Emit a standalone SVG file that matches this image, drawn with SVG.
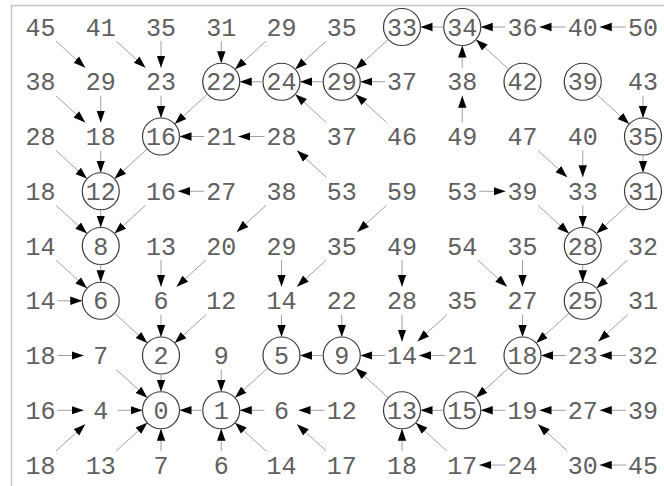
<svg xmlns="http://www.w3.org/2000/svg" width="664" height="486" viewBox="0 0 664 486">
<style>
.t{font-family:"Nimbus Mono PS","Nimbus Mono L","Courier New",Courier,FreeMono,"Liberation Mono",monospace;font-size:25px;fill:#606060;text-anchor:middle}
.c{fill:none;stroke:#3a3a3a;stroke-width:1.2}
.e line{stroke:#a0a0a0;stroke-width:1;marker-end:url(#ah)}
.f{stroke:#c4c4c4;stroke-width:1.5;fill:none}
</style>
<defs>
<marker id="ah" markerUnits="userSpaceOnUse" markerWidth="14" markerHeight="10" refX="12" refY="5" orient="auto">
<path d="M0,0.8 L12,5 L0,9.2 z" fill="#000"/>
</marker>
</defs>
<rect width="664" height="486" fill="#fff"/>
<path class="f" d="M11.5,486 V5.5 H664"/>
<g id="nodes">
<g id="n0_0"><text class="t" x="40.5" y="35.5">45</text></g>
<g id="n0_1"><text class="t" x="100.75" y="35.5">41</text></g>
<g id="n0_2"><text class="t" x="161" y="35.5">35</text></g>
<g id="n0_3"><text class="t" x="221.25" y="35.5">31</text></g>
<g id="n0_4"><text class="t" x="281.5" y="35.5">29</text></g>
<g id="n0_5"><text class="t" x="341.75" y="35.5">35</text></g>
<g id="n0_6"><circle class="c" cx="402" cy="27" r="18.5"/><text class="t" x="402" y="35.5">33</text></g>
<g id="n0_7"><circle class="c" cx="462.25" cy="27" r="18.5"/><text class="t" x="462.25" y="35.5">34</text></g>
<g id="n0_8"><text class="t" x="522.5" y="35.5">36</text></g>
<g id="n0_9"><text class="t" x="582.75" y="35.5">40</text></g>
<g id="n0_10"><text class="t" x="643" y="35.5">50</text></g>

<g id="n1_0"><text class="t" x="40.5" y="90.25">38</text></g>
<g id="n1_1"><text class="t" x="100.75" y="90.25">29</text></g>
<g id="n1_2"><text class="t" x="161" y="90.25">23</text></g>
<g id="n1_3"><circle class="c" cx="221.25" cy="81.75" r="18.5"/><text class="t" x="221.25" y="90.25">22</text></g>
<g id="n1_4"><circle class="c" cx="281.5" cy="81.75" r="18.5"/><text class="t" x="281.5" y="90.25">24</text></g>
<g id="n1_5"><circle class="c" cx="341.75" cy="81.75" r="18.5"/><text class="t" x="341.75" y="90.25">29</text></g>
<g id="n1_6"><text class="t" x="402" y="90.25">37</text></g>
<g id="n1_7"><text class="t" x="462.25" y="90.25">38</text></g>
<g id="n1_8"><circle class="c" cx="522.5" cy="81.75" r="18.5"/><text class="t" x="522.5" y="90.25">42</text></g>
<g id="n1_9"><circle class="c" cx="582.75" cy="81.75" r="18.5"/><text class="t" x="582.75" y="90.25">39</text></g>
<g id="n1_10"><text class="t" x="643" y="90.25">43</text></g>

<g id="n2_0"><text class="t" x="40.5" y="145">28</text></g>
<g id="n2_1"><text class="t" x="100.75" y="145">18</text></g>
<g id="n2_2"><circle class="c" cx="161" cy="136.5" r="18.5"/><text class="t" x="161" y="145">16</text></g>
<g id="n2_3"><text class="t" x="221.25" y="145">21</text></g>
<g id="n2_4"><text class="t" x="281.5" y="145">28</text></g>
<g id="n2_5"><text class="t" x="341.75" y="145">37</text></g>
<g id="n2_6"><text class="t" x="402" y="145">46</text></g>
<g id="n2_7"><text class="t" x="462.25" y="145">49</text></g>
<g id="n2_8"><text class="t" x="522.5" y="145">47</text></g>
<g id="n2_9"><text class="t" x="582.75" y="145">40</text></g>
<g id="n2_10"><circle class="c" cx="643" cy="136.5" r="18.5"/><text class="t" x="643" y="145">35</text></g>

<g id="n3_0"><text class="t" x="40.5" y="199.75">18</text></g>
<g id="n3_1"><circle class="c" cx="100.75" cy="191.25" r="18.5"/><text class="t" x="100.75" y="199.75">12</text></g>
<g id="n3_2"><text class="t" x="161" y="199.75">16</text></g>
<g id="n3_3"><text class="t" x="221.25" y="199.75">27</text></g>
<g id="n3_4"><text class="t" x="281.5" y="199.75">38</text></g>
<g id="n3_5"><text class="t" x="341.75" y="199.75">53</text></g>
<g id="n3_6"><text class="t" x="402" y="199.75">59</text></g>
<g id="n3_7"><text class="t" x="462.25" y="199.75">53</text></g>
<g id="n3_8"><text class="t" x="522.5" y="199.75">39</text></g>
<g id="n3_9"><text class="t" x="582.75" y="199.75">33</text></g>
<g id="n3_10"><circle class="c" cx="643" cy="191.25" r="18.5"/><text class="t" x="643" y="199.75">31</text></g>

<g id="n4_0"><text class="t" x="40.5" y="254.5">14</text></g>
<g id="n4_1"><circle class="c" cx="100.75" cy="246" r="18.5"/><text class="t" x="100.75" y="254.5">8</text></g>
<g id="n4_2"><text class="t" x="161" y="254.5">13</text></g>
<g id="n4_3"><text class="t" x="221.25" y="254.5">20</text></g>
<g id="n4_4"><text class="t" x="281.5" y="254.5">29</text></g>
<g id="n4_5"><text class="t" x="341.75" y="254.5">35</text></g>
<g id="n4_6"><text class="t" x="402" y="254.5">49</text></g>
<g id="n4_7"><text class="t" x="462.25" y="254.5">54</text></g>
<g id="n4_8"><text class="t" x="522.5" y="254.5">35</text></g>
<g id="n4_9"><circle class="c" cx="582.75" cy="246" r="18.5"/><text class="t" x="582.75" y="254.5">28</text></g>
<g id="n4_10"><text class="t" x="643" y="254.5">32</text></g>

<g id="n5_0"><text class="t" x="40.5" y="309.25">14</text></g>
<g id="n5_1"><circle class="c" cx="100.75" cy="300.75" r="18.5"/><text class="t" x="100.75" y="309.25">6</text></g>
<g id="n5_2"><text class="t" x="161" y="309.25">6</text></g>
<g id="n5_3"><text class="t" x="221.25" y="309.25">12</text></g>
<g id="n5_4"><text class="t" x="281.5" y="309.25">14</text></g>
<g id="n5_5"><text class="t" x="341.75" y="309.25">22</text></g>
<g id="n5_6"><text class="t" x="402" y="309.25">28</text></g>
<g id="n5_7"><text class="t" x="462.25" y="309.25">35</text></g>
<g id="n5_8"><text class="t" x="522.5" y="309.25">27</text></g>
<g id="n5_9"><circle class="c" cx="582.75" cy="300.75" r="18.5"/><text class="t" x="582.75" y="309.25">25</text></g>
<g id="n5_10"><text class="t" x="643" y="309.25">31</text></g>

<g id="n6_0"><text class="t" x="40.5" y="364">18</text></g>
<g id="n6_1"><text class="t" x="100.75" y="364">7</text></g>
<g id="n6_2"><circle class="c" cx="161" cy="355.5" r="18.5"/><text class="t" x="161" y="364">2</text></g>
<g id="n6_3"><text class="t" x="221.25" y="364">9</text></g>
<g id="n6_4"><circle class="c" cx="281.5" cy="355.5" r="18.5"/><text class="t" x="281.5" y="364">5</text></g>
<g id="n6_5"><circle class="c" cx="341.75" cy="355.5" r="18.5"/><text class="t" x="341.75" y="364">9</text></g>
<g id="n6_6"><text class="t" x="402" y="364">14</text></g>
<g id="n6_7"><text class="t" x="462.25" y="364">21</text></g>
<g id="n6_8"><circle class="c" cx="522.5" cy="355.5" r="18.5"/><text class="t" x="522.5" y="364">18</text></g>
<g id="n6_9"><text class="t" x="582.75" y="364">23</text></g>
<g id="n6_10"><text class="t" x="643" y="364">32</text></g>

<g id="n7_0"><text class="t" x="40.5" y="418.75">16</text></g>
<g id="n7_1"><text class="t" x="100.75" y="418.75">4</text></g>
<g id="n7_2"><circle class="c" cx="161" cy="410.25" r="18.5"/><text class="t" x="161" y="418.75">0</text></g>
<g id="n7_3"><circle class="c" cx="221.25" cy="410.25" r="18.5"/><text class="t" x="221.25" y="418.75">1</text></g>
<g id="n7_4"><text class="t" x="281.5" y="418.75">6</text></g>
<g id="n7_5"><text class="t" x="341.75" y="418.75">12</text></g>
<g id="n7_6"><circle class="c" cx="402" cy="410.25" r="18.5"/><text class="t" x="402" y="418.75">13</text></g>
<g id="n7_7"><circle class="c" cx="462.25" cy="410.25" r="18.5"/><text class="t" x="462.25" y="418.75">15</text></g>
<g id="n7_8"><text class="t" x="522.5" y="418.75">19</text></g>
<g id="n7_9"><text class="t" x="582.75" y="418.75">27</text></g>
<g id="n7_10"><text class="t" x="643" y="418.75">39</text></g>

<g id="n8_0"><text class="t" x="40.5" y="473.5">18</text></g>
<g id="n8_1"><text class="t" x="100.75" y="473.5">13</text></g>
<g id="n8_2"><text class="t" x="161" y="473.5">7</text></g>
<g id="n8_3"><text class="t" x="221.25" y="473.5">6</text></g>
<g id="n8_4"><text class="t" x="281.5" y="473.5">14</text></g>
<g id="n8_5"><text class="t" x="341.75" y="473.5">17</text></g>
<g id="n8_6"><text class="t" x="402" y="473.5">18</text></g>
<g id="n8_7"><text class="t" x="462.25" y="473.5">17</text></g>
<g id="n8_8"><text class="t" x="522.5" y="473.5">24</text></g>
<g id="n8_9"><text class="t" x="582.75" y="473.5">30</text></g>
<g id="n8_10"><text class="t" x="643" y="473.5">45</text></g>
</g>
<g id="connectors" class="e">
<line x1="56" y1="41.1" x2="85.25" y2="67.65"/>
<line x1="116.25" y1="41.1" x2="145.5" y2="67.65"/>
<line x1="161" y1="41" x2="161" y2="67.75"/>
<line x1="221.25" y1="41" x2="221.25" y2="63.25"/>
<line x1="266" y1="41.1" x2="234.95" y2="69.35"/>
<line x1="326.25" y1="41.1" x2="295.2" y2="69.35"/>
<line x1="388.3" y1="39.4" x2="355.45" y2="69.35"/>
<line x1="443.75" y1="27" x2="420.5" y2="27"/>
<line x1="505.5" y1="27" x2="480.75" y2="27"/>
<line x1="565.75" y1="27" x2="539.5" y2="27"/>
<line x1="626" y1="27" x2="599.75" y2="27"/>

<line x1="56" y1="95.85" x2="85.25" y2="122.4"/>
<line x1="100.75" y1="95.75" x2="100.75" y2="122.5"/>
<line x1="161" y1="95.75" x2="161" y2="118"/>
<line x1="207.55" y1="94.15" x2="174.7" y2="124.1"/>
<line x1="263" y1="81.75" x2="239.75" y2="81.75"/>
<line x1="323.25" y1="81.75" x2="300" y2="81.75"/>
<line x1="385" y1="81.75" x2="360.25" y2="81.75"/>
<line x1="462.25" y1="67.75" x2="462.25" y2="45.5"/>
<line x1="508.8" y1="69.35" x2="475.95" y2="39.4"/>
<line x1="596.45" y1="94.15" x2="629.3" y2="124.1"/>
<line x1="643" y1="95.75" x2="643" y2="118"/>

<line x1="56" y1="150.6" x2="87.05" y2="178.85"/>
<line x1="100.75" y1="150.5" x2="100.75" y2="172.75"/>
<line x1="147.3" y1="148.9" x2="114.45" y2="178.85"/>
<line x1="204.25" y1="136.5" x2="179.5" y2="136.5"/>
<line x1="264.5" y1="136.5" x2="238.25" y2="136.5"/>
<line x1="326.25" y1="122.4" x2="295.2" y2="94.15"/>
<line x1="386.5" y1="122.4" x2="355.45" y2="94.15"/>
<line x1="462.25" y1="122.5" x2="462.25" y2="95.75"/>
<line x1="538" y1="150.6" x2="567.25" y2="177.15"/>
<line x1="582.75" y1="150.5" x2="582.75" y2="177.25"/>
<line x1="643" y1="155" x2="643" y2="172.75"/>

<line x1="56" y1="205.35" x2="87.05" y2="233.6"/>
<line x1="100.75" y1="209.75" x2="100.75" y2="227.5"/>
<line x1="145.5" y1="205.35" x2="114.45" y2="233.6"/>
<line x1="204.25" y1="191.25" x2="178" y2="191.25"/>
<line x1="266" y1="205.35" x2="236.75" y2="231.9"/>
<line x1="326.25" y1="177.15" x2="297" y2="150.6"/>
<line x1="386.5" y1="205.35" x2="357.25" y2="231.9"/>
<line x1="479.25" y1="191.25" x2="505.5" y2="191.25"/>
<line x1="538" y1="205.35" x2="569.05" y2="233.6"/>
<line x1="582.75" y1="205.25" x2="582.75" y2="227.5"/>
<line x1="629.3" y1="203.65" x2="596.45" y2="233.6"/>

<line x1="56" y1="260.1" x2="87.05" y2="288.35"/>
<line x1="100.75" y1="264.5" x2="100.75" y2="282.25"/>
<line x1="161" y1="260" x2="161" y2="286.75"/>
<line x1="205.75" y1="260.1" x2="176.5" y2="286.65"/>
<line x1="281.5" y1="260" x2="281.5" y2="286.75"/>
<line x1="326.25" y1="260.1" x2="297" y2="286.65"/>
<line x1="402" y1="260" x2="402" y2="286.75"/>
<line x1="477.75" y1="260.1" x2="507" y2="286.65"/>
<line x1="522.5" y1="260" x2="522.5" y2="286.75"/>
<line x1="582.75" y1="264.5" x2="582.75" y2="282.25"/>
<line x1="627.5" y1="260.1" x2="596.45" y2="288.35"/>

<line x1="57.5" y1="300.75" x2="82.25" y2="300.75"/>
<line x1="114.45" y1="313.15" x2="147.3" y2="343.1"/>
<line x1="161" y1="314.75" x2="161" y2="337"/>
<line x1="205.75" y1="314.85" x2="174.7" y2="343.1"/>
<line x1="281.5" y1="314.75" x2="281.5" y2="337"/>
<line x1="341.75" y1="314.75" x2="341.75" y2="337"/>
<line x1="402" y1="314.75" x2="402" y2="341.5"/>
<line x1="446.75" y1="314.85" x2="417.5" y2="341.4"/>
<line x1="522.5" y1="314.75" x2="522.5" y2="337"/>
<line x1="569.05" y1="313.15" x2="536.2" y2="343.1"/>
<line x1="627.5" y1="314.85" x2="598.25" y2="341.4"/>

<line x1="57.5" y1="355.5" x2="83.75" y2="355.5"/>
<line x1="116.25" y1="369.6" x2="147.3" y2="397.85"/>
<line x1="161" y1="374" x2="161" y2="391.75"/>
<line x1="221.25" y1="369.5" x2="221.25" y2="391.75"/>
<line x1="267.8" y1="367.9" x2="234.95" y2="397.85"/>
<line x1="323.25" y1="355.5" x2="300" y2="355.5"/>
<line x1="385" y1="355.5" x2="360.25" y2="355.5"/>
<line x1="445.25" y1="355.5" x2="419" y2="355.5"/>
<line x1="508.8" y1="367.9" x2="475.95" y2="397.85"/>
<line x1="565.75" y1="355.5" x2="541" y2="355.5"/>
<line x1="626" y1="355.5" x2="599.75" y2="355.5"/>

<line x1="57.5" y1="410.25" x2="83.75" y2="410.25"/>
<line x1="117.75" y1="410.25" x2="142.5" y2="410.25"/>
<line x1="202.75" y1="410.25" x2="179.5" y2="410.25"/>
<line x1="264.5" y1="410.25" x2="239.75" y2="410.25"/>
<line x1="324.75" y1="410.25" x2="298.5" y2="410.25"/>
<line x1="388.3" y1="397.85" x2="355.45" y2="367.9"/>
<line x1="443.75" y1="410.25" x2="420.5" y2="410.25"/>
<line x1="505.5" y1="410.25" x2="480.75" y2="410.25"/>
<line x1="565.75" y1="410.25" x2="539.5" y2="410.25"/>
<line x1="626" y1="410.25" x2="599.75" y2="410.25"/>

<line x1="56" y1="450.9" x2="85.25" y2="424.35"/>
<line x1="116.25" y1="450.9" x2="147.3" y2="422.65"/>
<line x1="161" y1="451" x2="161" y2="428.75"/>
<line x1="221.25" y1="451" x2="221.25" y2="428.75"/>
<line x1="266" y1="450.9" x2="234.95" y2="422.65"/>
<line x1="326.25" y1="450.9" x2="297" y2="424.35"/>
<line x1="402" y1="451" x2="402" y2="428.75"/>
<line x1="446.75" y1="450.9" x2="415.7" y2="422.65"/>
<line x1="505.5" y1="465" x2="479.25" y2="465"/>
<line x1="567.25" y1="450.9" x2="538" y2="424.35"/>
<line x1="626" y1="465" x2="599.75" y2="465"/>
</g>
</svg>
